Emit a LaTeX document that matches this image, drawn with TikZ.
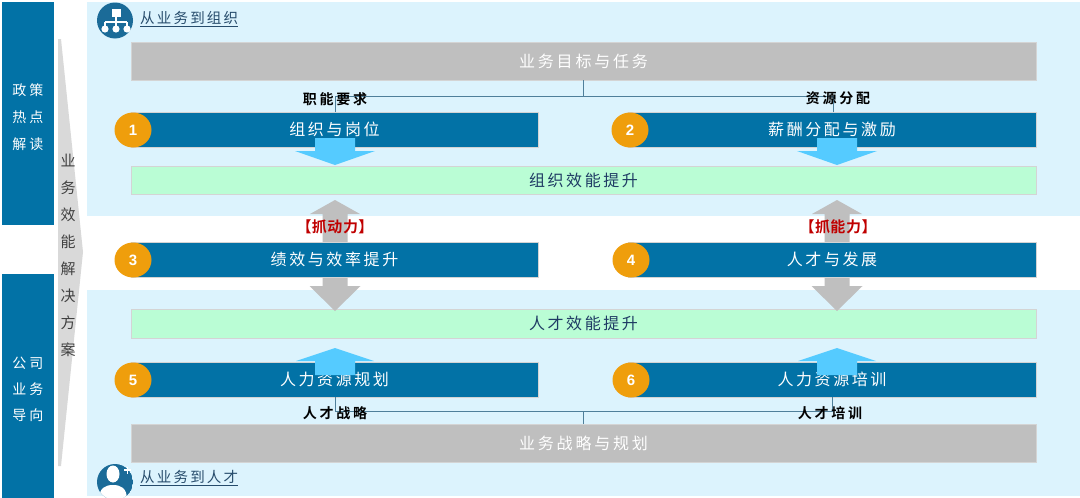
\documentclass[tikz,border=0pt]{standalone}
\usepackage{fontspec}
\newfontfamily\cjk[BoldFont={Noto Sans CJK SC Bold}]{Noto Sans CJK SC}
\newfontfamily\numf{Liberation Sans}
\definecolor{dblue}{HTML}{0272A6}
\definecolor{lblue}{HTML}{DCF3FD}
\definecolor{lgreen}{HTML}{BAFDD5}
\definecolor{gboxc}{HTML}{BFBFBF}
\definecolor{orangec}{HTML}{EF9E0C}
\definecolor{arrblue}{HTML}{55CBFF}
\definecolor{iconc}{HTML}{1B6B98}
\definecolor{connc}{HTML}{4F7F9A}
\definecolor{navyt}{HTML}{1F3B64}
\definecolor{titlet}{HTML}{264B6B}
\definecolor{redt}{HTML}{C00000}
\definecolor{wedgec}{HTML}{D9D9D9}
\definecolor{edgec}{HTML}{D4D4D4}
\def\lsp#1#2{\def\lsgap{\hspace{#1}}\lsfirst#2\relax}
\def\lsfirst#1{\ifx#1\relax\else#1\expandafter\lsrest\fi}
\def\lsrest#1{\ifx#1\relax\else\lsgap#1\expandafter\lsrest\fi}
\tikzset{
  barbox/.style={rectangle, draw=edgec, line width=0.6pt, inner sep=0pt},
  bluebox/.style={barbox, fill=dblue, text=white, font=\cjk\fontsize{16}{18}\selectfont},
  greenbox/.style={barbox, fill=lgreen, text=navyt, font=\cjk\fontsize{16}{18}\selectfont},
  graybox/.style={barbox, fill=gboxc, text=white, font=\cjk\fontsize{16}{18}\selectfont},
  numdot/.style={ellipse, fill=orangec, minimum width=37pt, minimum height=35pt, inner sep=0pt, text=white, font=\numf\bfseries\fontsize{15}{18}\selectfont},
  conn/.style={draw=connc, line width=0.8pt},
  lbl/.style={inner sep=0pt, text=black, font=\cjk\bfseries\fontsize{14}{16}\selectfont},
  redlbl/.style={inner sep=0pt, text=redt, font=\cjk\bfseries\fontsize{15}{16}\selectfont},
  sidebox/.style={rectangle, fill=dblue, inner sep=0pt, text=white, align=center},
  titletext/.style={anchor=west, inner sep=0pt, text=titlet, font=\cjk\fontsize{14.5}{16}\selectfont},
  iconcirc/.style={circle, fill=iconc, minimum size=36pt, inner sep=0pt},
}
\usetikzlibrary{shapes.geometric}
\begin{document}
\begin{tikzpicture}[x=1pt,y=-1pt]
\useasboundingbox (0,0) rectangle (1080,498);
\fill[white] (0,0) rectangle (1080,498);
% panels
\fill[lblue] (87,2) rectangle (1080,216);
\fill[lblue] (87,290) rectangle (1080,496);
% left side boxes
\node[sidebox, minimum width=52pt, minimum height=223pt] (s1) at (28,113.5) {};
\node[inner sep=0pt, text=white, align=center, font=\cjk\fontsize{14}{27}\selectfont] (s1t) at (28,117)
      {\lsp{3pt}{政策}\\\lsp{3pt}{热点}\\\lsp{3pt}{解读}};
\node[sidebox, minimum width=52pt, minimum height=224pt] (s2) at (28,386) {};
\node[inner sep=0pt, text=white, align=center, font=\cjk\fontsize{14}{26}\selectfont] (s2t) at (28,389.5)
      {\lsp{3pt}{公司}\\\lsp{3pt}{业务}\\\lsp{3pt}{导向}};
% wedge
\fill[wedgec] (58,39) -- (61,39) -- (83,252) -- (61,466) -- (58,466) -- cycle;
\node[inner sep=0pt, align=center, text=black!75, font=\cjk\fontsize{15}{27}\selectfont] (wt) at (68,255)
      {业\\务\\效\\能\\解\\决\\方\\案};
% icons and titles
\node[iconcirc] (ic1) at (115,20.5) {};
\fill[white] (111.5,8.5) rectangle (120.5,17);
\draw[white, line width=1.2pt] (116,17) -- (116,22) (105,22) -- (127,22) (105,22) -- (105,28) (116,22) -- (116,28) (127,22) -- (127,28);
\fill[white] (105,29) circle (3.6) (116,29) circle (3.6) (127,29) circle (3.6);
\node[titletext] (t1) at (140,19) {\underline{\lsp{2.2pt}{从业务到组织}}};
\begin{scope}
\clip (115,482) circle (18);
\fill[iconc] (115,482) circle (18);
\fill[white] (113,474) ellipse (6.5 and 8.5);
\fill[white] (99,500) .. controls (99,488) and (105,485) .. (113,485) .. controls (121,485) and (127,488) .. (127,500) -- cycle;
\end{scope}
\node[circle, minimum size=36pt, inner sep=0pt] (ic2) at (115,482) {};
\draw[white, line width=1.4pt] (124,470) -- (131,470) (127.5,466.5) -- (127.5,473.5);
\node[titletext] (t2) at (140,478) {\underline{\lsp{2.2pt}{从业务到人才}}};
% gray top / bottom
\node[graybox, minimum width=905pt, minimum height=38pt] (gt) at (583.5,61) {\lsp{2.8pt}{业务目标与任务}};
\node[graybox, minimum width=905pt, minimum height=38pt] (gb) at (583.5,443) {\lsp{2.8pt}{业务战略与规划}};
% green boxes
\node[greenbox, minimum width=905pt, minimum height=28pt] (g1) at (583.5,180) {\lsp{2.6pt}{组织效能提升}};
\node[greenbox, minimum width=905pt, minimum height=29pt] (g2) at (583.5,323.5) {\lsp{2.6pt}{人才效能提升}};
% gray arrows (behind boxes 3 and 4)
\foreach \cx in {335,837} {
  \fill[gboxc] (\cx,200) -- (\cx+25,214) -- (\cx+12.5,214) -- (\cx+12.5,243) -- (\cx-12.5,243) -- (\cx-12.5,214) -- (\cx-25,214) -- cycle;
  \fill[gboxc] (\cx-12.5,276) -- (\cx+12.5,276) -- (\cx+12.5,286) -- (\cx+25.5,286) -- (\cx,311) -- (\cx-25.5,286) -- (\cx-12.5,286) -- cycle;
}
% blue bars
\node[bluebox, minimum width=407pt, minimum height=35pt] (b1) at (334.5,129.5) {\lsp{2.6pt}{组织与岗位}};
\node[bluebox, minimum width=408pt, minimum height=35pt] (b2) at (832,129.5) {\lsp{2.6pt}{薪酬分配与激励}};
\node[bluebox, minimum width=407pt, minimum height=35pt] (b3) at (334.5,259.5) {\lsp{2.6pt}{绩效与效率提升}};
\node[bluebox, minimum width=408pt, minimum height=35pt] (b4) at (832,259.5) {\lsp{2.6pt}{人才与发展}};
\node[bluebox, minimum width=407pt, minimum height=35pt] (b5) at (334.5,379.5) {\lsp{2.6pt}{人力资源规划}};
\node[bluebox, minimum width=408pt, minimum height=35pt] (b6) at (832,379.5) {\lsp{2.6pt}{人力资源培训}};
% number dots
\node[numdot] (n1) at (133,130) {1};
\node[numdot] (n2) at (630,130) {2};
\node[numdot] (n3) at (133,260) {3};
\node[numdot] (n4) at (631,260) {4};
\node[numdot] (n5) at (133,380) {5};
\node[numdot] (n6) at (631,380) {6};
% blue arrows
\foreach \cx in {335,837} {
  \fill[arrblue] (\cx-20,138) -- (\cx+20,138) -- (\cx+20,151) -- (\cx+40,151) -- (\cx,165) -- (\cx-40,151) -- (\cx-20,151) -- cycle;
  \fill[arrblue] (\cx,348) -- (\cx+39,361) -- (\cx+20,361) -- (\cx+20,375) -- (\cx-20,375) -- (\cx-20,361) -- (\cx-39,361) -- cycle;
}
% connectors
\draw[conn] (gt.south) -- ++(0,16) coordinate (jt);
\draw[conn] (b1.north -| 335,0) -- (335,96) -| (b2.north -| 833,0);
\draw[conn] (gb.north) -- ++(0,-13) coordinate (jb);
\draw[conn] (b5.south -| 335,0) -- (335,411) -| (b6.south -| 832,0);
% labels
\node[lbl] (l1) at (335,99) {\lsp{2.7pt}{职能要求}};
\node[lbl] (l2) at (838,98) {\lsp{2.7pt}{资源分配}};
\node[lbl] (l3) at (335,413) {\lsp{2.7pt}{人才战略}};
\node[lbl] (l4) at (830,413) {\lsp{2.7pt}{人才培训}};
\node[redlbl] (r1) at (335,227) {\lsp{0.5pt}{【抓动力】}};
\node[redlbl] (r2) at (838,227) {\lsp{0.5pt}{【抓能力】}};
\end{tikzpicture}
\end{document}
